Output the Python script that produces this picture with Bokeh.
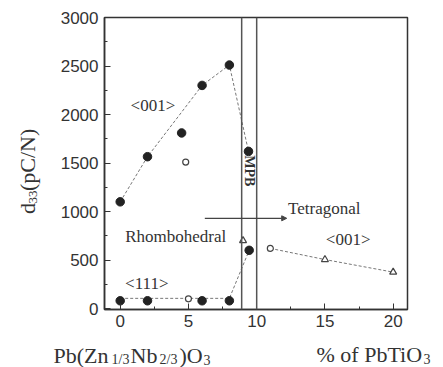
import math
from bokeh.plotting import figure
from bokeh.layouts import row, column
from bokeh.models import Range1d, Label, Arrow, NormalHead, SingleIntervalTicker, Span
from bokeh.embed import file_html
from bokeh.resources import INLINE

# d33 of PZN-PT single crystals versus PbTiO3 content
rh001_x = [0, 2, 4.5, 6, 8, 9.4]
rh001_y = [1100, 1565, 1810, 2300, 2510, 1620]
rh111_x = [0, 2, 6, 8, 9.45]
rh111_y = [80, 80, 80, 80, 600]
open_circ_x = [4.8, 5, 11]
open_circ_y = [1510, 100, 620]
tri_x = [9, 15, 20]
tri_y = [700, 505, 375]

# dashed guide curves
guide001_x = [0, 2, 6, 8, 9.4]
guide001_y = [1100, 1565, 2300, 2510, 1620]
guide111_x = [0, 8, 9.45]
guide111_y = [105, 105, 600]
guideT_x = [11, 15, 20]
guideT_y = [620, 505, 375]

mpb_bounds = [8.9, 10.0]
phase_arrow_x = [6.2, 12.2]
phase_arrow_y = 930

W, H = 443, 367
STRIP_W = 45          # left strip holding the y title
STRIP_H = 34          # bottom strip holding the x titles
MAIN_W, MAIN_H = W - STRIP_W, H - STRIP_H
X0, X1 = -1.15, 21.05
Y0, Y1 = -10, 3000

INK = "#333333"
SERIF = "Liberation Serif"
SANS = "Liberation Sans"

p = figure(width=MAIN_W, height=MAIN_H, output_backend="svg", toolbar_location=None,
           x_range=Range1d(X0, X1), y_range=Range1d(Y0, Y1),
           min_border_left=104 - STRIP_W, min_border_right=36,
           min_border_top=17, min_border_bottom=MAIN_H - 309)
p.grid.visible = False
p.outline_line_color = INK
p.outline_line_width = 1.5
p.border_fill_color = "white"

p.xaxis.ticker = SingleIntervalTicker(interval=5, num_minor_ticks=2)
p.yaxis.ticker = SingleIntervalTicker(interval=500, num_minor_ticks=2)
for ax in (p.xaxis, p.yaxis):
    ax.axis_line_color = INK
    ax.axis_line_width = 1.5
    ax.major_tick_in = 6
    ax.major_tick_out = 0
    ax.minor_tick_in = 3
    ax.minor_tick_out = 0
    ax.major_tick_line_color = INK
    ax.minor_tick_line_color = INK
    ax.major_label_text_font = SANS
    ax.major_label_text_font_size = "17px"
    ax.major_label_text_color = INK
p.xaxis.major_label_standoff = 5
p.yaxis.major_label_standoff = 6

# MPB band
for xb in mpb_bounds:
    p.add_layout(Span(location=xb, dimension="height", line_color="#555555", line_width=1.5))

# guides
dash = dict(line_color="#777777", line_width=1, line_dash="3 2")
p.line(guide001_x, guide001_y, **dash)
p.line(guide111_x, guide111_y, **dash)
p.line(guideT_x, guideT_y, **dash)

# markers
p.scatter(rh001_x, rh001_y, size=8.5, color="#222222")
p.scatter(rh111_x, rh111_y, size=8.5, color="#222222")
p.scatter(open_circ_x, open_circ_y, size=6, fill_color="white", line_color="#444444", line_width=1.2)
p.scatter(tri_x, tri_y, marker="triangle", size=7, fill_color="white", line_color="#444444", line_width=1.2)

# phase arrow
p.add_layout(Arrow(x_start=phase_arrow_x[0], y_start=phase_arrow_y,
                   x_end=phase_arrow_x[1], y_end=phase_arrow_y,
                   line_color="#444444", line_width=1.3,
                   end=NormalHead(size=5, fill_color="#444444", line_color="#444444")))


def add_text(fig, x, y, text, size="17px", align="left", baseline="middle", angle=0.0,
             bold=False, font=SERIF):
    fig.add_layout(Label(x=x, y=y, text=text, text_font=font, text_font_size=size,
                         text_color=INK, text_align=align, text_baseline=baseline,
                         angle=angle, text_font_style="bold" if bold else "normal"))


add_text(p, 2.4, 2090, "<001>", align="center")
add_text(p, 1.95, 258, "<111>", align="center")
add_text(p, 0.37, 738, "Rhombohedral")
add_text(p, 12.3, 1034, "Tetragonal")
add_text(p, 16.7, 713, "<001>", align="center")
add_text(p, 9.45, 1420, "MPB", size="14px", align="center", angle=-math.pi / 2, bold=True)


def strip(width, height, x_span, y_span):
    """blank panel whose data coordinates equal page pixels"""
    s = figure(width=width, height=height, output_backend="svg", toolbar_location=None,
               x_range=Range1d(*x_span), y_range=Range1d(*y_span),
               x_axis_type=None, y_axis_type=None,
               min_border_left=0, min_border_right=0, min_border_top=0, min_border_bottom=0)
    s.grid.visible = False
    s.outline_line_color = None
    s.border_fill_color = "white"
    return s


# y title, d33(pC/N), rotated
left = strip(STRIP_W, MAIN_H, (0, STRIP_W), (MAIN_H, 0))
for py, px, txt, sz in [(224, 27, "d", "22px"), (212, 32, "33", "13px"), (198, 27, "(pC/N)", "22px")]:
    add_text(left, px, py, txt, size=sz, angle=math.pi / 2)

# x titles
bottom = strip(W, STRIP_H, (0, W), (H, MAIN_H))
for px, py, txt, sz in [(53, 355, "Pb(Zn", "22px"), (111, 359, "1/3", "14px"),
                        (130, 355, "Nb", "22px"), (159, 359, "2/3", "14px"),
                        (179, 355, ")O", "22px"), (203, 359, "3", "14px"),
                        (316, 354, "% of PbTiO", "22px"), (423, 358, "3", "14px")]:
    add_text(bottom, px, py, txt, size=sz, baseline="alphabetic")

page = column(row(left, p, spacing=0), bottom, spacing=0)
open("out.html", "w").write(file_html(page, INLINE))
